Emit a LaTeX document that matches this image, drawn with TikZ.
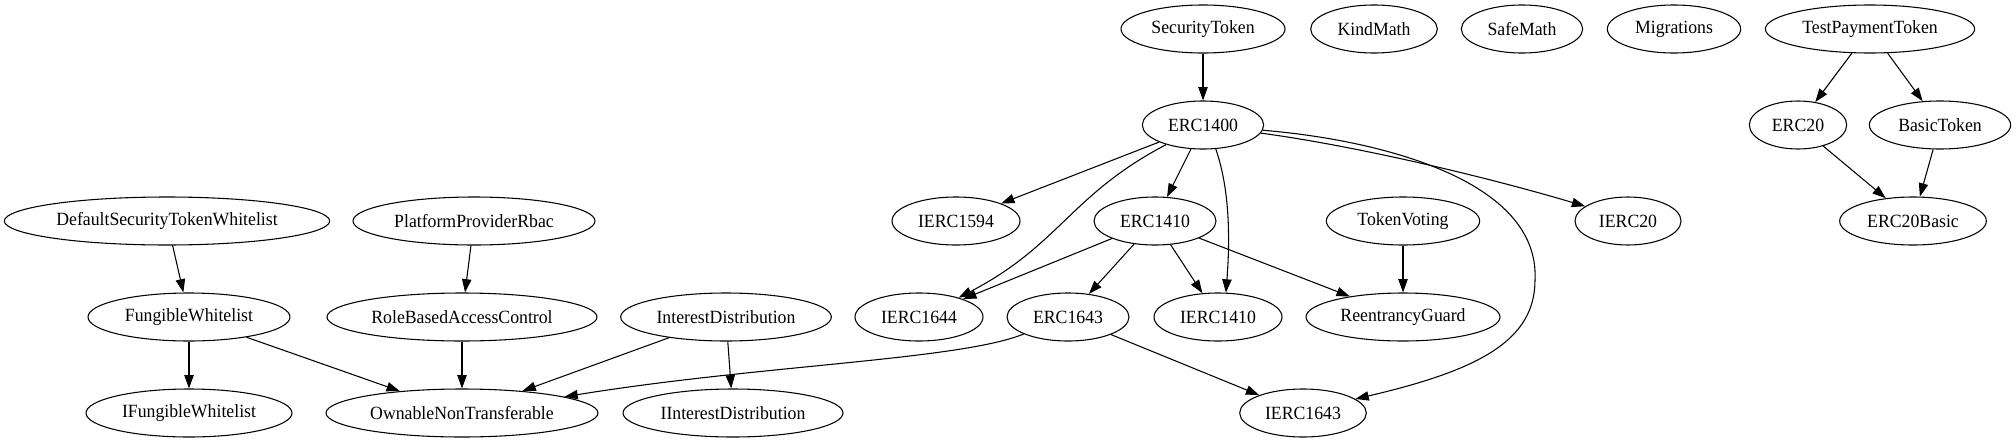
\documentclass[tikz,border=0pt]{standalone}
\usepackage{fontspec}
\setmainfont{Liberation Serif}[FakeStretch=0.95]
\usetikzlibrary{shapes,arrows.meta,calc}

\begin{document}
\begin{tikzpicture}[x=0.75pt, y=-0.75pt, font=\fontsize{14}{16}\selectfont,
    cls/.style={draw, ellipse, line width=0.8pt, inner sep=0pt, minimum height=36pt, minimum width=#1},
    dep/.style={line width=0.8pt, -{Triangle[length=10pt,width=7pt]}}]
    \useasboundingbox (0,0) rectangle (2016,443);
    % rank 0
    \node[cls=123pt] (st) at (1203,29) {SecurityToken};
    \foreach \x/\w/\name in {1374/95pt/KindMath, 1522/91pt/SafeMath, 1674/100pt/Migrations}
        \node[cls=\w] (\name) at (\x,29) {\name};
    \node[cls=157pt] (tpt) at (1870,29) {TestPaymentToken};
    % rank 1
    \node[cls=91pt] (e1400) at (1203,125) {ERC1400};
    \node[cls=73pt] (e20) at (1798,125) {ERC20};
    \node[cls=106pt] (bt) at (1940,125) {BasicToken};
    % rank 2
    \node[cls=244pt] (dstw) at (167,221) {DefaultSecurityTokenWhitelist};
    \node[cls=181.5pt] (ppr) at (474,221) {PlatformProviderRbac};
    \node[cls=96pt] (ie1594) at (956,221) {IERC1594};
    \node[cls=91.5pt] (e1410) at (1155,221) {ERC1410};
    \node[cls=115pt] (tv) at (1403,221) {TokenVoting};
    \node[cls=79.5pt] (ie20) at (1628,221) {IERC20};
    \node[cls=110pt] (e20b) at (1913,221) {ERC20Basic};
    % rank 3
    \node[cls=151.5pt] (fw) at (189,317) {FungibleWhitelist};
    \node[cls=202.5pt] (rbac) at (462,317) {RoleBasedAccessControl};
    \node[cls=158pt] (intd) at (726,317) {InterestDistribution};
    \node[cls=96pt] (ie1644) at (919,317) {IERC1644};
    \node[cls=91.5pt] (e1643) at (1068,317) {ERC1643};
    \node[cls=96pt] (ie1410) at (1218,317) {IERC1410};
    \node[cls=145.5pt] (rg) at (1403,317) {ReentrancyGuard};
    % rank 4
    \node[cls=154.5pt] (ifw) at (189,413) {IFungibleWhitelist};
    \node[cls=204pt] (ont) at (462,413) {OwnableNonTransferable};
    \node[cls=165pt] (iintd) at (733,413) {IInterestDistribution};
    \node[cls=95pt] (ie1643) at (1303,413) {IERC1643};
    % straight dependencies
    \foreach \a/\b in {st/e1400, tpt/e20, tpt/bt, e20/e20b, bt/e20b,
                       e1400/ie1594, e1400/e1410, e1410/ie1644, e1410/e1643,
                       e1410/ie1410, e1410/rg, tv/rg, e1643/ie1643,
                       dstw/fw, ppr/rbac, fw/ifw, fw/ont, rbac/ont, intd/ont, intd/iintd}
        \draw[dep] (\a) -- (\b);
    % bent ones out of ERC1400
    \draw[dep] (e1400.208) .. controls (1070,195) and (1060,245) .. (ie1644.26);
    \draw[dep] (e1400.298) .. controls (1230,190) and (1230,240) .. (ie1410.72);
    \draw[dep] (e1400.352) .. controls (1350,145) and (1480,175) .. (ie20.161);
    \coordinate (swing) at (1535,280);
    \draw[dep] (e1400.355) .. controls (1380,140) and (1540,180) .. (swing)
        .. controls (1535,340) and (1480,370) .. (ie1643.15);
    % long one back to the left
    \draw[dep] (e1643.201) .. controls (960,360) and (760,365) .. (ont.9);
\end{tikzpicture}
\end{document}
